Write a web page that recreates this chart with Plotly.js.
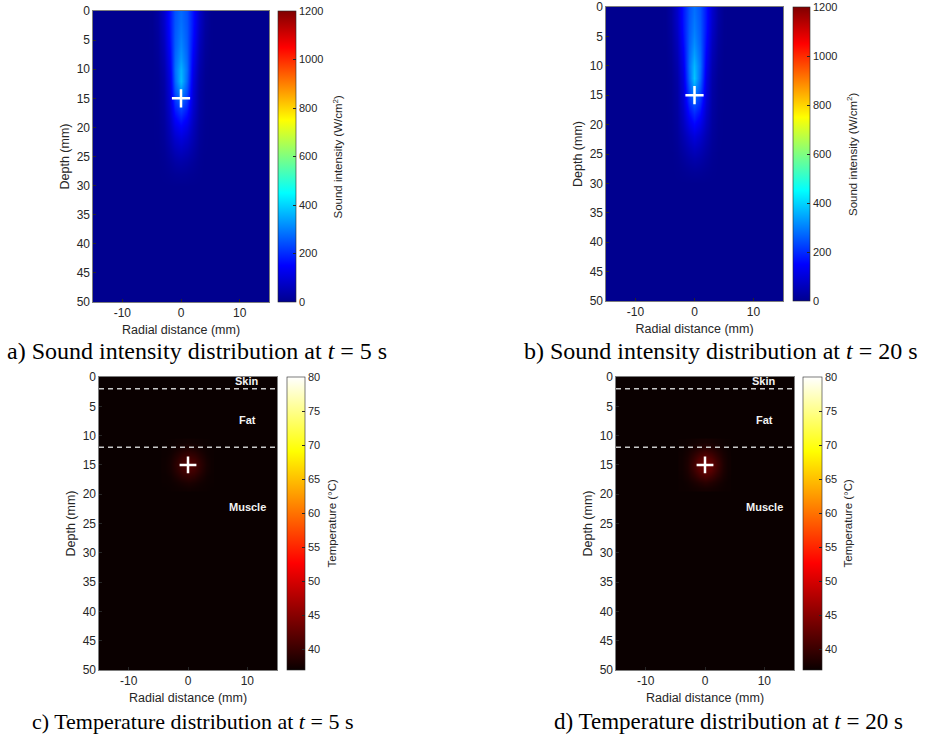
<!DOCTYPE html>
<html>
<head>
<meta charset="utf-8">
<script src="https://cdn.plot.ly/plotly-3.0.1.min.js"></script>
<style>html,body{margin:0;padding:0;background:#fff;}#chart{width:926px;height:740px;}</style>
</head>
<body>
<div id="chart"></div>
<script>
// ---------------- DATA ----------------
// Sound intensity field (W/cm^2): radial positions (mm) and depths (mm)
const radialX = [-5, -4, -3, -2, -1, 0, 1, 2, 3, 4, 5];
const depthY = [0, 2, 4, 6, 8, 10, 12, 14, 16, 18, 20, 22, 24, 26, 28, 30];
const intensity5s = [
  [2, 25, 80, 170, 245, 275, 245, 170, 80, 25, 2],
  [2, 24, 78, 170, 250, 285, 250, 170, 78, 24, 2],
  [1, 20, 70, 165, 255, 295, 255, 165, 70, 20, 1],
  [1, 16, 60, 155, 260, 310, 260, 155, 60, 16, 1],
  [0, 12, 50, 140, 270, 330, 270, 140, 50, 12, 0],
  [0, 8, 40, 125, 280, 360, 280, 125, 40, 8, 0],
  [0, 6, 32, 110, 270, 375, 270, 110, 32, 6, 0],
  [0, 5, 28, 100, 240, 320, 240, 100, 28, 5, 0],
  [0, 5, 25, 90, 200, 255, 200, 90, 25, 5, 0],
  [0, 4, 22, 75, 155, 195, 155, 75, 22, 4, 0],
  [0, 3, 18, 60, 115, 145, 115, 60, 18, 3, 0],
  [0, 2, 14, 45, 80, 100, 80, 45, 14, 2, 0],
  [0, 1, 9, 30, 52, 65, 52, 30, 9, 1, 0],
  [0, 0, 5, 16, 28, 35, 28, 16, 5, 0, 0],
  [0, 0, 2, 6, 10, 12, 10, 6, 2, 0, 0],
  [0, 0, 0, 0, 0, 0, 0, 0, 0, 0, 0]
];
const intensity20s = [
  [2, 26, 82, 172, 248, 280, 248, 172, 82, 26, 2],
  [2, 25, 80, 172, 252, 290, 252, 172, 80, 25, 2],
  [1, 21, 72, 168, 258, 300, 258, 168, 72, 21, 1],
  [1, 17, 62, 158, 264, 315, 264, 158, 62, 17, 1],
  [0, 13, 52, 143, 275, 338, 275, 143, 52, 13, 0],
  [0, 9, 42, 128, 285, 368, 285, 128, 42, 9, 0],
  [0, 6, 34, 112, 275, 385, 275, 112, 34, 6, 0],
  [0, 5, 29, 102, 245, 330, 245, 102, 29, 5, 0],
  [0, 5, 26, 92, 205, 262, 205, 92, 26, 5, 0],
  [0, 4, 23, 77, 160, 200, 160, 77, 23, 4, 0],
  [0, 3, 19, 62, 118, 150, 118, 62, 19, 3, 0],
  [0, 2, 15, 46, 82, 104, 82, 46, 15, 2, 0],
  [0, 1, 10, 31, 54, 68, 54, 31, 10, 1, 0],
  [0, 0, 5, 17, 30, 37, 30, 17, 5, 0, 0],
  [0, 0, 2, 6, 11, 13, 11, 6, 2, 0, 0],
  [0, 0, 0, 0, 0, 0, 0, 0, 0, 0, 0]
];
// Temperature field (deg C) around the focus
const tempX = [-4, -3, -2, -1, 0, 1, 2, 3, 4];
const tempY = [11, 12, 13, 14, 15, 16, 17, 18, 19];
const temp5s = [
  [37, 37.1, 37.2, 37.3, 37.4, 37.3, 37.2, 37.1, 37],
  [37.1, 37.2, 37.5, 37.9, 38.2, 37.9, 37.5, 37.2, 37.1],
  [37.1, 37.4, 38.2, 39.1, 39.6, 39.1, 38.2, 37.4, 37.1],
  [37.2, 37.7, 38.9, 40.3, 41.1, 40.3, 38.9, 37.7, 37.2],
  [37.2, 37.8, 39.2, 40.8, 41.8, 40.8, 39.2, 37.8, 37.2],
  [37.2, 37.7, 38.9, 40.3, 41.1, 40.3, 38.9, 37.7, 37.2],
  [37.1, 37.4, 38.2, 39.1, 39.6, 39.1, 38.2, 37.4, 37.1],
  [37.1, 37.2, 37.5, 37.9, 38.2, 37.9, 37.5, 37.2, 37.1],
  [37, 37.1, 37.2, 37.3, 37.4, 37.3, 37.2, 37.1, 37]
];
const temp20s = [
  [37.1, 37.2, 37.4, 37.6, 37.7, 37.6, 37.4, 37.2, 37.1],
  [37.1, 37.4, 37.9, 38.5, 38.9, 38.5, 37.9, 37.4, 37.1],
  [37.2, 37.8, 38.9, 40.2, 41.0, 40.2, 38.9, 37.8, 37.2],
  [37.3, 38.1, 39.8, 41.8, 43.0, 41.8, 39.8, 38.1, 37.3],
  [37.3, 38.2, 40.2, 42.5, 44.0, 42.5, 40.2, 38.2, 37.3],
  [37.3, 38.1, 39.8, 41.8, 43.0, 41.8, 39.8, 38.1, 37.3],
  [37.2, 37.8, 38.9, 40.2, 41.0, 40.2, 38.9, 37.8, 37.2],
  [37.1, 37.4, 37.9, 38.5, 38.9, 38.5, 37.9, 37.4, 37.1],
  [37.1, 37.2, 37.4, 37.6, 37.7, 37.6, 37.4, 37.2, 37.1]
];
const focusX = [0];
const focusY = [15];
const xTicks = [-10, 0, 10];
const xTickText = ['-10', '0', '10'];
const yTicks = [0, 5, 10, 15, 20, 25, 30, 35, 40, 45, 50];
const intensityTicks = [0, 200, 400, 600, 800, 1000, 1200];
const tempTicks = [40, 45, 50, 55, 60, 65, 70, 75, 80];
const layerBoundaries = [2, 12];
const layerNames = ['Skin', 'Fat', 'Muscle'];
const layerLabelY = [0.7, 7.3, 22.2];
const layerLabelX = 10;
const captions = [
  'a) Sound intensity distribution at <i>t</i> = 5 s',
  'b) Sound intensity distribution at <i>t</i> = 20 s',
  'c) Temperature distribution at <i>t</i> = 5 s',
  'd) Temperature distribution at <i>t</i> = 20 s'
];

// ---------------- STYLE ----------------
const W = 926, H = 740;
const jet = [[0, 'rgb(0,0,143)'], [0.125, 'rgb(0,0,255)'], [0.375, 'rgb(0,255,255)'],
             [0.625, 'rgb(255,255,0)'], [0.875, 'rgb(255,0,0)'], [1, 'rgb(128,0,0)']];
const hot = [[0, 'rgb(10,0,0)'], [0.365, 'rgb(255,0,0)'], [0.746, 'rgb(255,255,0)'], [1, 'rgb(255,255,255)']];
const font = 'Liberation Sans, Arial, Helvetica, sans-serif';
const txt = '#262626';

// panel pixel boxes [left, right, top, bottom], colorbar [left, width]
const panels = [
  {box: [93, 269, 11, 302], cb: [278, 18], cbTitleX: 337},
  {box: [606, 783, 7, 301], cb: [793, 17], cbTitleX: 852},
  {box: [99, 277, 377, 670], cb: [287, 18], cbTitleX: 331},
  {box: [616, 794, 377, 670], cb: [803, 19], cbTitleX: 847}
];
const px = v => v / W;
const py = v => 1 - v / H;

function colorbarFor(p, ticks) {
  return {
    x: px(p.cb[0]), xanchor: 'left', xref: 'paper',
    y: py(p.box[3]), yanchor: 'bottom', yref: 'paper',
    len: (p.box[3] - p.box[2]) / H, lenmode: 'fraction',
    thickness: p.cb[1], thicknessmode: 'pixels',
    xpad: 0, ypad: 0,
    outlinewidth: 0.6, outlinecolor: txt,
    ticks: 'inside', ticklen: 3, tickcolor: txt,
    tickvals: ticks, tickfont: {family: font, size: 11, color: txt},
    title: {text: ''}
  };
}

const traces = [];
const fields = [
  {x: radialX, y: depthY, z: intensity5s, cs: jet, zmin: 0, zmax: 1200, ticks: intensityTicks},
  {x: radialX, y: depthY, z: intensity20s, cs: jet, zmin: 0, zmax: 1200, ticks: intensityTicks},
  {x: tempX, y: tempY, z: temp5s, cs: hot, zmin: 37, zmax: 80, ticks: tempTicks},
  {x: tempX, y: tempY, z: temp20s, cs: hot, zmin: 37, zmax: 80, ticks: tempTicks}
];
fields.forEach((f, i) => {
  const s = i === 0 ? '' : String(i + 1);
  traces.push({
    type: 'heatmap', x: f.x, y: f.y, z: f.z, xaxis: 'x' + s, yaxis: 'y' + s,
    colorscale: f.cs, zmin: f.zmin, zmax: f.zmax, zsmooth: 'best',
    colorbar: colorbarFor(panels[i], f.ticks), hoverinfo: 'skip'
  });
  traces.push({
    type: 'scatter', mode: 'markers', x: focusX, y: focusY, xaxis: 'x' + s, yaxis: 'y' + s,
    marker: {symbol: 'cross-thin', size: i < 2 ? 13 : 12, line: {width: 2.5, color: '#ffffff'}, color: '#ffffff'},
    showlegend: false, hoverinfo: 'skip'
  });
});

const layout = {
  width: W, height: H,
  margin: {l: 0, r: 0, t: 0, b: 0},
  paper_bgcolor: '#ffffff',
  showlegend: false,
  font: {family: font, color: txt},
  annotations: [],
  shapes: []
};

panels.forEach((p, i) => {
  const s = i === 0 ? '' : String(i + 1);
  const bg = i < 2 ? 'rgb(0,0,143)' : 'rgb(10,0,0)';
  layout['xaxis' + s] = {
    domain: [px(p.box[0]), px(p.box[1])], anchor: 'y' + s,
    range: [-15, 15], tickvals: xTicks, ticktext: xTickText, ticks: 'inside', ticklen: 3, tickcolor: txt,
    showgrid: false, zeroline: false, showline: true, mirror: true, linecolor: txt, linewidth: 0.6,
    tickfont: {family: font, size: 12, color: txt},
    title: {text: 'Radial distance (mm)', font: {family: font, size: 12.5, color: txt}, standoff: 6}
  };
  layout['yaxis' + s] = {
    domain: [py(p.box[3]), py(p.box[2])], anchor: 'x' + s,
    range: [50, 0], tickvals: yTicks, ticks: 'inside', ticklen: 3, tickcolor: txt,
    showgrid: false, zeroline: false, showline: true, mirror: true, linecolor: txt, linewidth: 0.6,
    tickfont: {family: font, size: 12, color: txt},
    title: {text: 'Depth (mm)', font: {family: font, size: 12.5, color: txt}, standoff: 4}
  };
  layout.shapes.push({type: 'rect', xref: 'x' + s + ' domain', yref: 'y' + s + ' domain',
    x0: 0, x1: 1, y0: 0, y1: 1, fillcolor: bg, line: {width: 0}, layer: 'below'});
  layout.annotations.push({
    xref: 'paper', yref: 'paper', x: px(p.cbTitleX), y: py((p.box[2] + p.box[3]) / 2),
    text: i < 2 ? 'Sound intensity (W/cm<sup>2</sup>)' : 'Temperature (°C)',
    textangle: -90, showarrow: false, xanchor: 'center', yanchor: 'middle',
    font: {family: font, size: 11.5, color: txt}
  });
});

// layer boundaries and labels on temperature panels
[2, 3].forEach(i => {
  const s = String(i + 1);
  layerBoundaries.forEach(d => {
    layout.shapes.push({type: 'line', xref: 'x' + s + ' domain', yref: 'y' + s,
      x0: 0, x1: 1, y0: d, y1: d, line: {color: '#c8c8c8', width: 1.5, dash: '5px,4px'}});
  });
  layerNames.forEach((n, k) => {
    layout.annotations.push({xref: 'x' + s, yref: 'y' + s, x: layerLabelX, y: layerLabelY[k],
      text: '<b>' + n + '</b>', showarrow: false, xanchor: 'center', yanchor: 'middle',
      font: {family: font, size: 11, color: '#f2f2f2'}});
  });
});

// captions
const capPos = [[5, 351, 24], [522, 351, 24], [30, 721, 22], [552, 721, 23]];
captions.forEach((c, i) => {
  layout.annotations.push({xref: 'paper', yref: 'paper', x: px(capPos[i][0]), y: py(capPos[i][1]),
    text: c, showarrow: false, xanchor: 'left', yanchor: 'middle',
    font: {family: 'Liberation Serif, Times New Roman, serif', size: capPos[i][2], color: '#000000'}});
});

Plotly.newPlot('chart', traces, layout, {displayModeBar: false, staticPlot: true});
</script>
</body>
</html>
